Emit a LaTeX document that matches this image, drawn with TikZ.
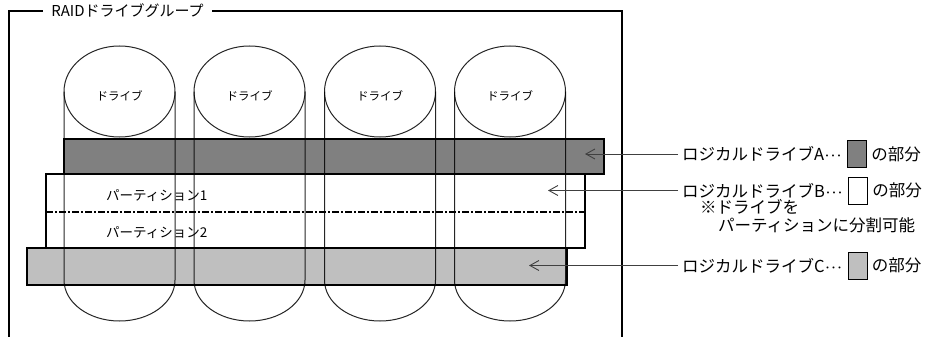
\documentclass[tikz,border=0pt]{standalone}
\usepackage{fontspec}
\setmainfont{Noto Sans CJK JP}
\usetikzlibrary{arrows.meta, positioning}
\newcommand{\lddots}{{\fontsize{12}{12}\selectfont ･･･}}
\tikzset{
  frameline/.style={line width=2.4pt},
  ldbar/.style={draw, line width=2pt},
  drvline/.style={draw=black, draw opacity=0.85, line width=1pt},
  lab/.style={font=\fontsize{16.5}{18}\selectfont, inner xsep=4pt, inner ysep=0pt, anchor=west},
  keybox/.style={draw, line width=0.8pt, minimum width=19pt, minimum height=27pt, inner sep=0pt},
}

\begin{document}
\begin{tikzpicture}[x=1pt, y=-1pt, >={Straight Barb[length=9pt,width=10pt]}]
\useasboundingbox (0,0) rectangle (925,337);
% group frame
\node[fill=white, minimum width=169pt, inner sep=0pt, font=\fontsize{15}{16}\selectfont] (title) at (127.5,11) {RAIDドライブグループ};
\draw[frameline] (title.west) -| (9,337);
\draw[frameline] (title.east) -| (622,337);
% logical drives
\draw[ldbar, fill=black!50] (64,139) rectangle (604,174);
\draw[ldbar, fill=white] (46,174) rectangle (585,248);
\draw[line width=1.5pt, dash pattern=on 7pt off 2pt on 2pt off 2pt] (46,212) -- (585,212);
\draw[ldbar, fill=black!25] (27,248) rectangle (567,285);
\node[font=\fontsize{13.5}{14}\selectfont, anchor=west, inner sep=0pt] (part1) at (106,196) {パーティション1};
\node[font=\fontsize{13.5}{14}\selectfont, anchor=west, inner sep=0pt] (part2) at (106,233) {パーティション2};
% drives
\foreach \cx [count=\i] in {119.5,249.5,380,510}{
  \draw[drvline] (\cx,91.5) ellipse [x radius=55.5pt, y radius=45.5pt];
  \draw[drvline] (\cx-55.5,91.5) -- (\cx-55.5,280) arc[start angle=180, end angle=360, x radius=55.5pt, y radius=41pt] -- (\cx+55.5,91.5);
  \node[font=\fontsize{11.5}{12}\selectfont] (drive\i) at (\cx,96) {ドライブ};
}
% legend
\coordinate (tipA) at (585,154);
\coordinate (tipB) at (548,190.5);
\coordinate (tipC) at (529,265.5);
\node[lab] (labA) at (678,154) {ロジカルドライブA\lddots};
\node[keybox, fill=black!50, right=1pt of labA] (keyA) {};
\node[lab, right=0pt of keyA] (restA) {の部分};
\node[lab] (labB) at (678,190.5) {ロジカルドライブB\lddots};
\node[keybox, fill=white, right=1pt of labB] (keyB) {};
\node[lab, right=0pt of keyB] (restB) {の部分};
\node[lab] (noteB1) at (696,207) {※ドライブを};
\node[lab] (noteB2) at (714,225) {パーティションに分割可能};
\node[lab] (labC) at (678,265.5) {ロジカルドライブC\lddots};
\node[keybox, fill=black!25, right=1pt of labC] (keyC) {};
\node[lab, right=0pt of keyC] (restC) {の部分};
\draw[->, black!75, line width=0.9pt] (labA.west) -- (tipA);
\draw[->, black!75, line width=0.9pt] (labB.west) -- (tipB);
\draw[->, black!75, line width=0.9pt] (labC.west) -- (tipC);
\end{tikzpicture}
\end{document}
